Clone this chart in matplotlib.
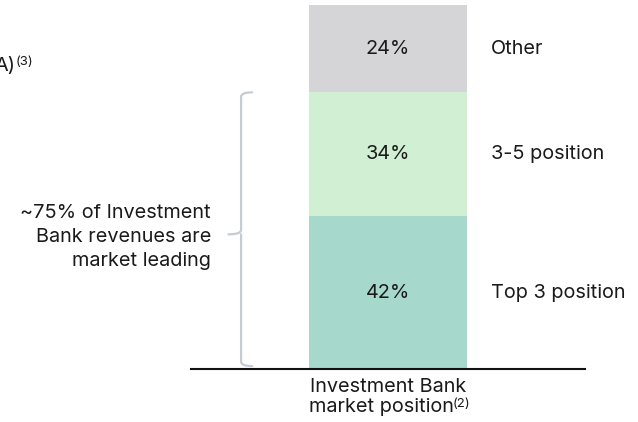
import matplotlib
matplotlib.use("Agg")
import matplotlib.pyplot as plt
from matplotlib.path import Path
from matplotlib.patches import PathPatch

plt.rcParams['font.family'] = ['Inter', 'DejaVu Sans']

# data (bottom to top)
segments = ["Top 3 position", "3-5 position", "Other"]
shares = [42, 34, 24]
colors = ["#a7d8cc", "#d1efd3", "#d5d5d8"]
bar_label = "Investment Bank"
bar_label2 = "market position"
note = "~75% of Investment\nBank revenues are\nmarket leading"

FS = 14.3
W, H = 638, 422
fig = plt.figure(figsize=(W / 100, H / 100), dpi=100)
ax = fig.add_axes([191 / W, 1 - 369 / H, (585 - 191) / W, (369 - 5) / H])
ax.set_xlim(-1.247, 1.247)
ax.set_ylim(0, 100)
for s in ["top", "right", "left"]:
    ax.spines[s].set_visible(False)
ax.spines["bottom"].set_linewidth(1.5)
ax.spines["bottom"].set_color("#111111")
ax.set_xticks([])
ax.set_yticks([])

bottom = 0
for name, v, c in zip(segments, shares, colors):
    ax.bar(0, v, width=1.0, bottom=bottom, color=c, edgecolor="none")
    mid = bottom + v / 2
    ax.text(0, mid, f"{v}%", ha="center", va="center", fontsize=FS, color="#1a1a1a")
    ax.text(0.652, mid, name, ha="left", va="center", fontsize=FS, color="#1a1a1a")
    bottom += v

# brace around the top two-five positions
top = shares[0] + shares[1]
x0, x1, xt = -0.93, -0.86, -1.01
r = 1.2
lo = 0.8
mid = 37.0
verts = [(x1, top), (x0, top), (x0, top - r),
         (x0, mid + r), (x0, mid), (xt, mid),
         (x0, mid), (x0, mid - r), (x0, lo + r),
         (x0, lo), (x1, lo)]
codes = [Path.MOVETO, Path.CURVE3, Path.CURVE3,
         Path.LINETO, Path.CURVE3, Path.CURVE3,
         Path.MOVETO, Path.CURVE3, Path.LINETO,
         Path.CURVE3, Path.CURVE3]
ax.add_patch(PathPatch(Path(verts, codes), facecolor="none", edgecolor="#c6ccd3",
                       lw=1.6, capstyle="round", joinstyle="round"))
ax.text(-1.12, 36.3, note, ha="right", va="center", fontsize=FS,
        color="#1a1a1a", linespacing=1.45, multialignment="right")

# x label with superscript
ax.text(0, -2.6, bar_label, ha="center", va="top", fontsize=FS,
        color="#1a1a1a", clip_on=False)
t2 = ax.text(-0.04, -8.1, bar_label2, ha="center", va="top", fontsize=FS,
             color="#1a1a1a", clip_on=False)
fig.canvas.draw()
bb = t2.get_window_extent()
fig.text(bb.x1 / W - 0.002, bb.y1 / H, "(2)", ha="left", va="top",
         fontsize=9.5, color="#1a1a1a")

# cut-off title fragment at the left edge
tt = fig.text(-0.008, 1 - 66 / H, "A)", ha="left", va="center", fontsize=FS,
              color="#1a1a1a")
fig.canvas.draw()
bb = tt.get_window_extent()
fig.text(bb.x1 / W - 0.001, bb.y1 / H + 0.002, "(3)", ha="left", va="top",
         fontsize=9.5, color="#1a1a1a")

fig.savefig("out.png", dpi=100)
